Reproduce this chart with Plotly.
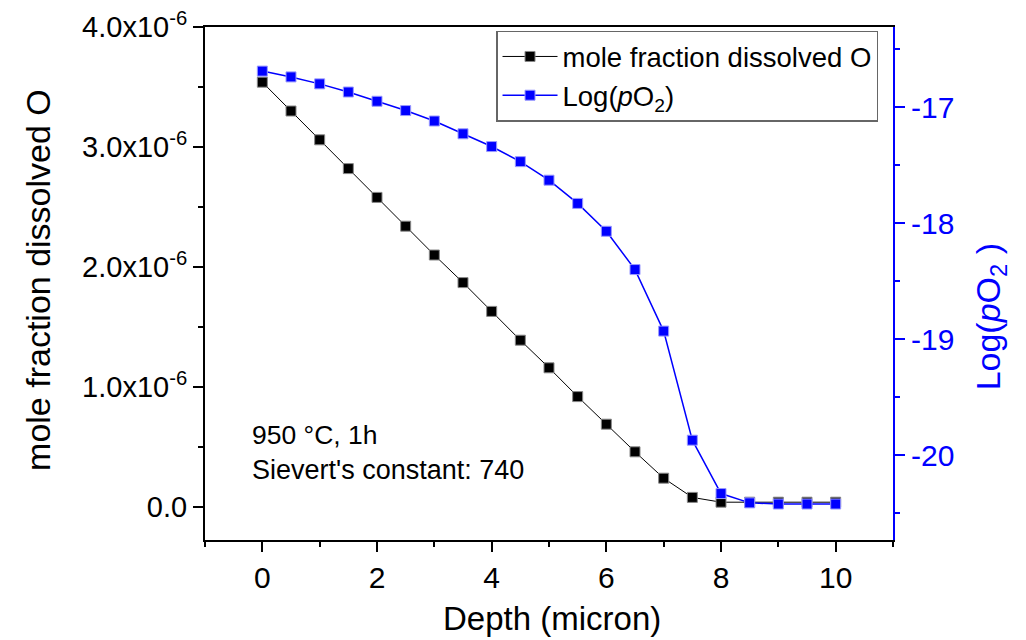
import plotly.graph_objects as go

depth = [0, 0.5, 1, 1.5, 2, 2.5, 3, 3.5, 4, 4.5, 5, 5.5, 6, 6.5, 7, 7.5, 8, 8.5, 9, 9.5, 10]
mole_fraction = [3.54e-6, 3.30e-6, 3.06e-6, 2.82e-6, 2.58e-6, 2.34e-6, 2.10e-6, 1.87e-6,
                 1.63e-6, 1.39e-6, 1.16e-6, 0.92e-6, 0.69e-6, 0.46e-6, 0.24e-6, 0.08e-6,
                 0.04e-6, 0.04e-6, 0.04e-6, 0.04e-6, 0.04e-6]
log_po2 = [-16.69, -16.74, -16.80, -16.87, -16.95, -17.03, -17.12, -17.23, -17.34, -17.47,
           -17.63, -17.83, -18.07, -18.40, -18.93, -19.87, -20.33, -20.41, -20.42, -20.42, -20.42]

x_ticks = [0, 2, 4, 6, 8, 10]
x_minor = [-1, 1, 3, 5, 7, 9, 11]
y1_ticks = [0.0, 1.0e-6, 2.0e-6, 3.0e-6, 4.0e-6]
y1_labels = ["0.0", "1.0x10<sup>-6</sup>", "2.0x10<sup>-6</sup>", "3.0x10<sup>-6</sup>", "4.0x10<sup>-6</sup>"]
y1_minor = [-0.5e-6, 0.5e-6, 1.5e-6, 2.5e-6, 3.5e-6]
y2_ticks = [-20, -19, -18, -17]
y2_minor = [-20.5, -19.5, -18.5, -17.5, -16.5]

FONT = "Liberation Sans, Arial, sans-serif"
BLUE = "#0000ff"

fig = go.Figure()
fig.add_trace(go.Scatter(
    x=depth, y=mole_fraction, mode="lines+markers", name="mole fraction dissolved O",
    line=dict(color="black", width=1),
    marker=dict(symbol="square", size=10, color="black", line=dict(color="#888888", width=1)),
))
fig.add_trace(go.Scatter(
    x=depth, y=log_po2, mode="lines+markers", name="Log(<i>p</i>O<sub>2</sub>)", yaxis="y2",
    line=dict(color=BLUE, width=1.5),
    marker=dict(symbol="square", size=10, color=BLUE, line=dict(color="#9999ff", width=1)),
))

fig.update_layout(
    width=1026, height=640,
    margin=dict(l=205, r=133, t=27, b=100),
    paper_bgcolor="white", plot_bgcolor="white",
    font=dict(family=FONT, size=28, color="black"),
    showlegend=True,
    legend=dict(x=0.423, y=0.993, xanchor="left", yanchor="top",
                bordercolor="#666666", borderwidth=1.5, bgcolor="white",
                font=dict(size=27.5, family=FONT), itemwidth=55, tracegroupgap=0),
    xaxis=dict(
        range=[-1, 11], showgrid=False, zeroline=False, automargin=False,
        showline=True, linecolor="black", linewidth=2, mirror=True,
        ticks="outside", ticklen=10, tickwidth=2, tickcolor="black",
        tickmode="array", tickvals=x_ticks, ticktext=[str(v) for v in x_ticks],
        tickfont=dict(size=30),
        minor=dict(tickmode="array", tickvals=x_minor, ticks="outside", ticklen=5, tickwidth=2, tickcolor="black"),
    ),
    yaxis=dict(
        range=[-0.275e-6, 4.0e-6], showgrid=False, zeroline=False, automargin=False,
        showline=True, linecolor="black", linewidth=2,
        ticks="outside", ticklen=10, tickwidth=2, tickcolor="black",
        tickmode="array", tickvals=y1_ticks, ticktext=y1_labels,
        tickfont=dict(size=29),
        minor=dict(tickmode="array", tickvals=y1_minor, ticks="outside", ticklen=5, tickwidth=2, tickcolor="black"),
    ),
    yaxis2=dict(
        overlaying="y", side="right", automargin=False,
        range=[-20.73, -16.31], showgrid=False, zeroline=False,
        showline=True, linecolor=BLUE, linewidth=2,
        ticks="outside", ticklen=10, tickwidth=2, tickcolor=BLUE,
        tickmode="array", tickvals=y2_ticks, ticktext=[str(v) for v in y2_ticks],
        tickfont=dict(size=30, color=BLUE),
        minor=dict(tickmode="array", tickvals=y2_minor, ticks="outside", ticklen=5, tickwidth=2, tickcolor=BLUE),
    ),
)

# axis titles
fig.add_annotation(x=0.504, y=-0.153, xref="paper", yref="paper", text="Depth (micron)",
                   showarrow=False, xanchor="center", yanchor="middle",
                   font=dict(size=33, family=FONT, color="black"))
fig.add_annotation(x=-0.2427, y=0.507, xref="paper", yref="paper", text="mole fraction dissolved O",
                   textangle=-90, showarrow=False, xanchor="center", yanchor="middle",
                   font=dict(size=34, family=FONT, color="black"))
fig.add_annotation(x=1.141, y=0.434, xref="paper", yref="paper", text="Log(<i>p</i>O<sub>2</sub> )",
                   textangle=-90, showarrow=False, xanchor="center", yanchor="middle",
                   font=dict(size=34, family=FONT, color=BLUE))
# notes
fig.add_annotation(x=-0.22, y=0.6e-6, xref="x", yref="y", text="950 °C, 1h",
                   showarrow=False, xanchor="left", yanchor="middle", font=dict(size=26.5, family=FONT))
fig.add_annotation(x=-0.22, y=0.31e-6, xref="x", yref="y", text="Sievert's constant: 740",
                   showarrow=False, xanchor="left", yanchor="middle", font=dict(size=27, family=FONT))

fig.write_html("out.html")
